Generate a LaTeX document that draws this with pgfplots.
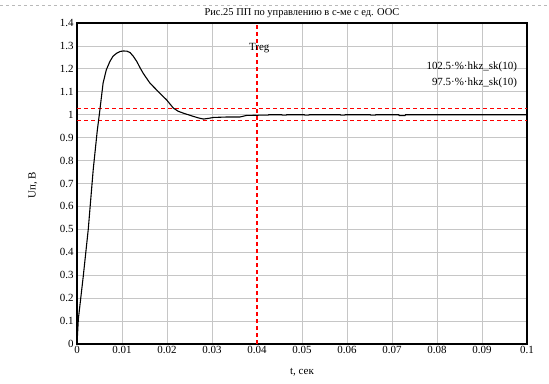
\documentclass[border=0pt]{standalone}
\usepackage{fontspec}
\setmainfont{Liberation Serif}
\usepackage{pgfplots}
\pgfplotsset{compat=1.18}
\begin{document}
\begin{tikzpicture}[x=1bp,y=1bp]
\path[use as bounding box] (0,0) rectangle (549,383);
\draw[gray!55, dashed, line width=0.6pt] (0,378) -- (549,378);
\begin{axis}[
  at={(77bp,39bp)}, anchor=south west,
  width=450bp, height=321bp, scale only axis,
  xmin=0, xmax=0.1, ymin=0, ymax=1.4,
  xtick={0,0.01,0.02,0.03,0.04,0.05,0.06,0.07,0.08,0.09,0.1},
  xticklabels={0,0.01,0.02,0.03,0.04,0.05,0.06,0.07,0.08,0.09,0.1},
  ytick={0,0.1,0.2,0.3,0.4,0.5,0.6,0.7,0.8,0.9,1,1.1,1.2,1.3,1.4},
  yticklabels={0,0.1,0.2,0.3,0.4,0.5,0.6,0.7,0.8,0.9,1,1.1,1.2,1.3,1.4},
  grid=major, grid style={gray!45, line width=0.8pt},
  axis line style={line width=1.3pt},
  tick style={draw=none},
  ticklabel style={font=\fontsize{11}{12}\selectfont},
  xticklabel style={yshift=1bp},
  clip=false,
]
\addplot[white, line width=1.5bp] coordinates {(0.04,0.003) (0.04,1.397)};
\addplot[red, line width=1.1bp, dash pattern=on 4bp off 3bp] coordinates {(0.04,0) (0.04,1.4)};
\addplot[red, line width=1bp, dash pattern=on 4bp off 3bp] coordinates {(0,1.025) (0.1,1.025)};
\addplot[red, line width=1bp, dash pattern=on 4bp off 3bp] coordinates {(0,0.975) (0.1,0.975)};
\addplot[black, line width=1.1pt] coordinates {
(0,0) (0.0003,0.109) (0.0014,0.297) (0.0025,0.5) (0.0036,0.76) (0.0045,0.93) (0.005,1.007)
(0.0058,1.138) (0.0065,1.195) (0.0073,1.232) (0.0080,1.255) (0.0088,1.268) (0.0096,1.276) (0.0103,1.278)
(0.0111,1.277) (0.0118,1.271) (0.0125,1.255) (0.0133,1.232) (0.0140,1.205) (0.0147,1.181)
(0.0155,1.158) (0.0162,1.138) (0.0173,1.116) (0.0184,1.094) (0.0199,1.065) (0.0214,1.029)
(0.0225,1.015) (0.0236,1.007) (0.0258,0.993) (0.0270,0.986) (0.0281,0.981) (0.0292,0.984)
(0.0303,0.988) (0.0333,0.99) (0.0362,0.99) (0.0377,0.997) (0.0407,0.998)
(0.0425,0.998) (0.0426,1.0) (0.0455,1.0) (0.0456,0.998) (0.0465,0.998) (0.0466,1.0)
(0.0505,1.0) (0.0506,0.998) (0.0515,0.998) (0.0516,1.0) (0.0585,1.0) (0.0586,0.998)
(0.0595,0.998) (0.0596,1.0) (0.0652,1.0) (0.0653,0.998) (0.0663,0.998) (0.0664,1.0)
(0.0715,1.0) (0.0716,0.996) (0.0729,0.996) (0.0730,1.0) (0.1,1.0)
};
\node[font=\fontsize{11}{12}\selectfont] at (axis cs:0.0405,1.29) {Treg};
\node[anchor=east, font=\fontsize{11}{12}\selectfont, inner sep=0pt] at (axis cs:0.0978,1.209) {102.5·\%·hkz\_sk(10)};
\node[anchor=east, font=\fontsize{11}{12}\selectfont, inner sep=0pt] at (axis cs:0.0978,1.139) {97.5·\%·hkz\_sk(10)};
\end{axis}
\node[anchor=base, font=\fontsize{10.5}{12}\selectfont, inner sep=0pt] at (302,368) {Рис.25 ПП по управлению в с-ме с ед. ООС};
\node[font=\fontsize{11}{12}\selectfont] at (302,11) {t, сек};
\node[font=\fontsize{11}{12}\selectfont, rotate=90] at (33,198) {Uп, В};
\end{tikzpicture}
\end{document}
